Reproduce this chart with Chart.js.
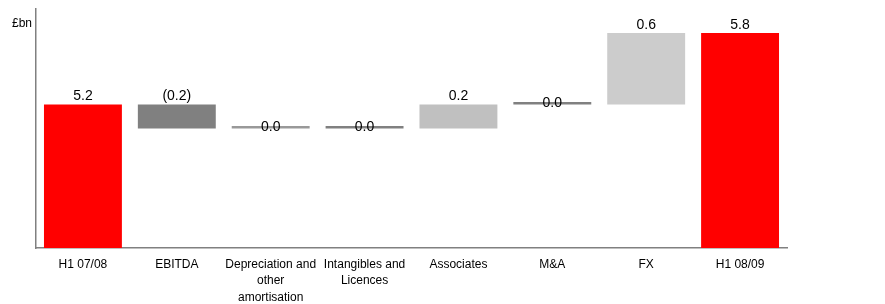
<!DOCTYPE html>
<html>
<head>
<meta charset="utf-8">
<script src="https://cdn.jsdelivr.net/npm/chart.js@4.4.1/dist/chart.umd.min.js"></script>
<style>
  html, body { margin: 0; padding: 0; background: #fff; }
</style>
</head>
<body>
<canvas id="bridgeChart" width="885" height="304"></canvas>
<script>
// categories on the x axis
const categories = [
    'H1 07/08',
    'EBITDA',
    ['Depreciation and', 'other', 'amortisation'],
    ['Intangibles and', 'Licences'],
    'Associates',
    'M&A',
    'FX',
    'H1 08/09'
];

// opening and closing totals (£bn) and the movements between them
const openingTotal = 5.2;
const movements = [-0.2, 0.0, 0.0, 0.2, 0.0, 0.6];
const closingTotal = 5.8;

const barColors = ['#FF0000', '#808080', '#999999', '#808080', '#C0C0C0', '#808080', '#CCCCCC', '#FF0000'];

// y axis range shown in the original (axis does not start at zero)
const yMin = 4.0;
const yMax = 6.0;

// build floating bars [from, to] for the bridge
const bars = [];
const labels = [];
bars.push([yMin, openingTotal]);
labels.push(openingTotal.toFixed(1));
let running = openingTotal;
movements.forEach(m => {
    const next = Math.round((running + m) * 100) / 100;
    bars.push([running, next]);
    labels.push(m < 0 ? '(' + Math.abs(m).toFixed(1) + ')' : m.toFixed(1));
    running = next;
});
bars.push([yMin, closingTotal]);
labels.push(closingTotal.toFixed(1));

// draws the value labels and the unit text
const valueLabels = {
    id: 'valueLabels',
    afterDatasetsDraw(chart) {
        const ctx = chart.ctx;
        const meta = chart.getDatasetMeta(0);
        ctx.save();
        ctx.fillStyle = '#000';
        ctx.font = '14px "Liberation Sans", Arial, sans-serif';
        ctx.textAlign = 'center';
        meta.data.forEach((bar, i) => {
            const pair = bars[i];
            if (pair[0] === pair[1]) {
                // flat movement: text sits across the line
                ctx.textBaseline = 'alphabetic';
                ctx.fillText(labels[i], bar.x, bar.y + 5);
            } else {
                ctx.textBaseline = 'bottom';
                const top = Math.min(bar.y, bar.base);
                ctx.fillText(labels[i], bar.x, top - 1);
            }
        });
        ctx.font = '12px "Liberation Sans", Arial, sans-serif';
        ctx.textAlign = 'right';
        ctx.textBaseline = 'alphabetic';
        ctx.fillText('£bn', chart.chartArea.left - 4, 27);
        ctx.restore();
    }
};

const ctx = document.getElementById('bridgeChart').getContext('2d');
new Chart(ctx, {
    type: 'bar',
    data: {
        labels: categories,
        datasets: [{
            data: bars,
            backgroundColor: barColors,
            borderWidth: 0,
            minBarLength: 2.5,
            barPercentage: 0.83,
            categoryPercentage: 1.0
        }]
    },
    options: {
        responsive: false,
        animation: false,
        devicePixelRatio: 1,
        layout: {
            padding: { left: 36, right: 98, top: 9, bottom: 0 }
        },
        plugins: {
            legend: { display: false },
            tooltip: { enabled: false }
        },
        scales: {
            x: {
                grid: { display: false, drawTicks: false },
                border: { display: true, color: '#808080', width: 1.5 },
                ticks: {
                    color: '#000',
                    padding: 8,
                    maxRotation: 0,
                    autoSkip: false,
                    font: { family: '"Liberation Sans", Arial, sans-serif', size: 12, lineHeight: 1.38 }
                },
                afterFit(scale) { scale.height = 56; }
            },
            y: {
                min: yMin,
                max: yMax,
                grid: { display: false, drawTicks: false },
                border: { display: true, color: '#808080', width: 1.5 },
                ticks: { display: false },
                afterFit(scale) { scale.width = 0; }
            }
        }
    },
    plugins: [valueLabels]
});
</script>
</body>
</html>
